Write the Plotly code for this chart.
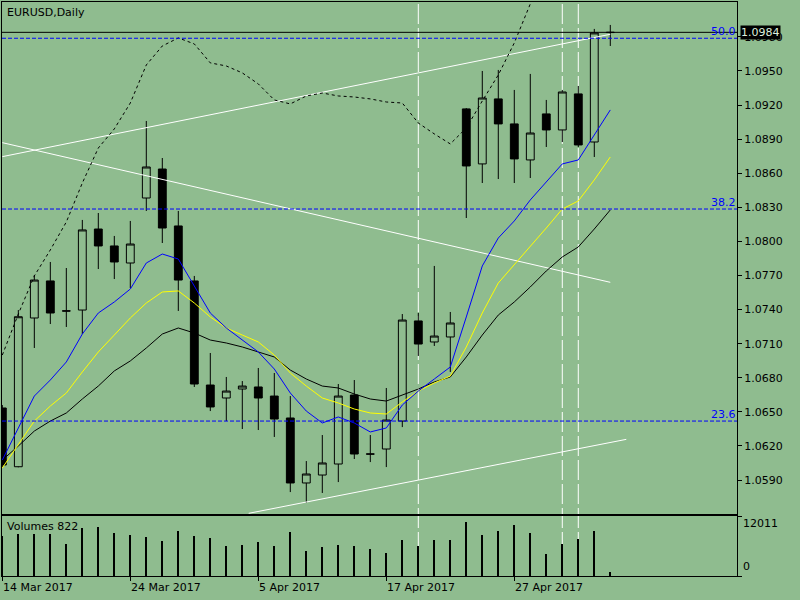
import plotly.graph_objects as go

# bar dates (daily, trading days only)
dates = ["14 Mar 2017", "15 Mar 2017", "16 Mar 2017", "17 Mar 2017", "20 Mar 2017",
         "21 Mar 2017", "22 Mar 2017", "23 Mar 2017", "24 Mar 2017", "27 Mar 2017",
         "28 Mar 2017", "29 Mar 2017", "30 Mar 2017", "31 Mar 2017", "3 Apr 2017",
         "4 Apr 2017", "5 Apr 2017", "6 Apr 2017", "7 Apr 2017", "10 Apr 2017",
         "11 Apr 2017", "12 Apr 2017", "13 Apr 2017", "14 Apr 2017", "17 Apr 2017",
         "18 Apr 2017", "19 Apr 2017", "20 Apr 2017", "21 Apr 2017", "24 Apr 2017",
         "25 Apr 2017", "26 Apr 2017", "27 Apr 2017", "28 Apr 2017", "1 May 2017",
         "2 May 2017", "3 May 2017", "4 May 2017", "5 May 2017"]

opens = [1.06534, 1.06017, 1.07326, 1.07652, 1.07389, 1.07396, 1.08109, 1.07960, 1.07810, 1.08382,
         1.08637, 1.08136, 1.07652, 1.06736, 1.06622, 1.06701, 1.06719, 1.06639, 1.06446, 1.05874,
         1.05944, 1.06041, 1.06648, 1.06130, 1.06173, 1.06419, 1.07300, 1.07115, 1.07159, 1.09166,
         1.08682, 1.09254, 1.09034, 1.08717, 1.09122, 1.08981, 1.09298, 1.08875, 1.09838]
highs = [1.06560, 1.07396, 1.07704, 1.07819, 1.07766, 1.08189, 1.08250, 1.08048, 1.08180, 1.09060,
         1.08734, 1.08268, 1.07696, 1.07018, 1.06807, 1.06771, 1.06886, 1.06842, 1.06639, 1.06067,
         1.06296, 1.06745, 1.06780, 1.06296, 1.06710, 1.07361, 1.07370, 1.07784, 1.07379, 1.09174,
         1.09500, 1.09509, 1.09333, 1.09474, 1.09245, 1.09333, 1.09368, 1.09870, 1.09905]
lows = [1.06014, 1.06012, 1.07062, 1.07273, 1.07247, 1.07185, 1.07757, 1.07669, 1.07590, 1.08268,
        1.07986, 1.07388, 1.06719, 1.06507, 1.06419, 1.06349, 1.06340, 1.06279, 1.05794, 1.05698,
        1.05786, 1.05882, 1.06085, 1.06058, 1.06014, 1.06366, 1.06992, 1.07080, 1.06851, 1.08206,
        1.08514, 1.08549, 1.08514, 1.08558, 1.08831, 1.08875, 1.08831, 1.08743, 1.09720]
closes = [1.06032, 1.07337, 1.07660, 1.07370, 1.07387, 1.08101, 1.07960, 1.07819, 1.07977, 1.08655,
          1.08118, 1.07660, 1.06745, 1.06543, 1.06683, 1.06727, 1.06622, 1.06437, 1.05874, 1.05953,
          1.06050, 1.06639, 1.06129, 1.06128, 1.06428, 1.07308, 1.07097, 1.07167, 1.07282, 1.08664,
          1.09262, 1.09034, 1.08726, 1.08954, 1.08981, 1.09315, 1.08849, 1.09835, 1.09840]

volumes = [8000, 8408, 8408, 8408, 6406, 9609, 9809, 8608, 8207, 7807,
           7006, 9008, 8007, 7607, 6005, 6206, 6806, 6005, 8808, 5005,
           5805, 6206, 6005, 5405, 4604, 7206, 6005, 7206, 7206, 10810,
           8207, 9008, 10209, 8608, 4404, 6406, 7407, 9008, 822]

ma_blue = [1.06076, 1.06358, 1.06639, 1.06780, 1.06939, 1.07185, 1.07370, 1.07467, 1.07581, 1.07810,
           1.07889, 1.07845, 1.07608, 1.07370, 1.07238, 1.07132, 1.07027, 1.06877, 1.06666, 1.06507,
           1.06402, 1.06455, 1.06402, 1.06323, 1.06358, 1.06560, 1.06683, 1.06789, 1.06895, 1.07335,
           1.07784, 1.08030, 1.08180, 1.08365, 1.08523, 1.08682, 1.08717, 1.08937, 1.09157]
ma_yellow = [1.06006, 1.06208, 1.06419, 1.06551, 1.06666, 1.06851, 1.07027, 1.07176, 1.07326, 1.07458,
             1.07555, 1.07564, 1.07458, 1.07335, 1.07238, 1.07176, 1.07115, 1.07000, 1.06842, 1.06727,
             1.06622, 1.06578, 1.06525, 1.06490, 1.06481, 1.06587, 1.06683, 1.06754, 1.06815, 1.07071,
             1.07370, 1.07634, 1.07793, 1.07951, 1.08118, 1.08285, 1.08356, 1.08541, 1.08743]
ma_black = [1.06076, 1.06199, 1.06331, 1.06419, 1.06490, 1.06613, 1.06727, 1.06860, 1.06948, 1.07062,
            1.07185, 1.07238, 1.07194, 1.07132, 1.07106, 1.07071, 1.07027, 1.06983, 1.06868, 1.06789,
            1.06727, 1.06710, 1.06657, 1.06613, 1.06595, 1.06648, 1.06701, 1.06763, 1.06807, 1.06983,
            1.07176, 1.07352, 1.07467, 1.07599, 1.07740, 1.07863, 1.07951, 1.08109, 1.08277]
ma_dotted = [1.07000, 1.07361, 1.07696, 1.07925, 1.08171, 1.08514, 1.08822, 1.08990, 1.09218, 1.09553,
             1.09720, 1.09791, 1.09738, 1.09571, 1.09544, 1.09483, 1.09386, 1.09245, 1.09210, 1.09280,
             1.09306, 1.09280, 1.09271, 1.09254, 1.09227, 1.09218, 1.09042, 1.08946, 1.08858, 1.08998,
             1.09236, 1.09465, 1.09747, 1.10081, 1.10433]

# trend lines: (bar index, price) end points
trend_up = [(0.0, 1.08746), (38.0, 1.09823)]
trend_down = [(0.0, 1.08869), (38.0, 1.07640)]
trend_low = [(15.4, 1.05607), (39.0, 1.06258)]

vlines = [26, 35, 36]  # bar indexes of vertical lines

fib_levels = [1.09788, 1.08285, 1.06419]
fib_labels = ["50.0", "38.2", "23.6"]

bid = 1.0984
price_ticks = [1.0590, 1.0620, 1.0650, 1.0680, 1.0710, 1.0740, 1.0770, 1.0800,
               1.0830, 1.0860, 1.0890, 1.0920, 1.0950, 1.0980]
date_ticks = [0, 8, 16, 24, 32]
vol_max = 12011

BG = "#8FBC8F"
FONT = "DejaVu Sans"

idx = list(range(len(opens)))

fig = go.Figure()

for line in [trend_up, trend_down, trend_low]:
    fig.add_trace(go.Scatter(x=[p[0] for p in line], y=[p[1] for p in line], mode="lines",
                             line=dict(color="white", width=1), xaxis="x", yaxis="y"))

fig.add_trace(go.Candlestick(
    x=idx, open=opens, high=highs, low=lows, close=closes,
    increasing=dict(line=dict(color="black", width=1), fillcolor=BG),
    decreasing=dict(line=dict(color="black", width=1), fillcolor="black"),
    whiskerwidth=0, xaxis="x", yaxis="y"))

fig.add_trace(go.Scatter(x=idx[:len(ma_dotted)], y=ma_dotted, mode="lines",
                         line=dict(color="black", width=1, dash="3px,3px"), xaxis="x", yaxis="y"))
fig.add_trace(go.Scatter(x=idx, y=ma_black, mode="lines", line=dict(color="black", width=1),
                         xaxis="x", yaxis="y"))
fig.add_trace(go.Scatter(x=idx, y=ma_yellow, mode="lines", line=dict(color="#FFFF00", width=1),
                         xaxis="x", yaxis="y"))
fig.add_trace(go.Scatter(x=idx, y=ma_blue, mode="lines", line=dict(color="#0000FF", width=1),
                         xaxis="x", yaxis="y"))

fig.add_trace(go.Bar(x=idx, y=volumes, width=0.08, marker=dict(color="black", line=dict(width=0)),
                     xaxis="x2", yaxis="y2"))

shapes = []
for v in vlines:
    shapes.append(dict(type="line", xref="x", yref="paper", x0=v, x1=v, y0=0, y1=1,
                       line=dict(color="white", width=1, dash="20px,4px"), layer="below"))
for lv in fib_levels:
    shapes.append(dict(type="line", xref="x domain", yref="y", x0=0, x1=1, y0=lv, y1=lv,
                       line=dict(color="#0000FF", width=1, dash="4px,2px")))
shapes.append(dict(type="line", xref="x domain", yref="y", x0=0, x1=1, y0=bid, y1=bid,
                   line=dict(color="black", width=1)))

ann = []
ann.append(dict(text="EURUSD,Daily", xref="paper", yref="paper", x=0, y=1, xanchor="left",
                yanchor="top", xshift=3, yshift=-2, showarrow=False))
ann.append(dict(text="Volumes 822", xref="paper", yref="paper", x=0, y=60 / 574, xanchor="left",
                yanchor="top", xshift=3, yshift=-2, showarrow=False))
for lv, lab in zip(fib_levels, fib_labels):
    ann.append(dict(text=lab, xref="paper", yref="y", x=1, y=lv, xanchor="right", yanchor="bottom",
                    xshift=1, yshift=-2, showarrow=False, font=dict(color="#0000FF")))
ann.append(dict(text="1.0984", xref="paper", yref="y", x=1, y=bid, xanchor="left", yanchor="middle",
                xshift=3, showarrow=False, bgcolor="black", borderpad=0,
                font=dict(color="#DDEEDD")))
ann.append(dict(text=str(vol_max), xref="paper", yref="y2", x=1, y=vol_max, xanchor="left",
                yanchor="top", xshift=4, yshift=1, showarrow=False))
ann.append(dict(text="0", xref="paper", yref="y2", x=1, y=0, xanchor="left",
                yanchor="bottom", xshift=4, yshift=1, showarrow=False))
for t in date_ticks:
    ann.append(dict(text=dates[t], xref="x2", yref="paper", x=t, y=0, xanchor="left",
                    yanchor="top", xshift=-1, yshift=-3, showarrow=False))

axis_common = dict(showgrid=False, zeroline=False, showline=True, mirror=True,
                   linecolor="black", linewidth=1)
xrange = [-0.02, 45.92]

fig.update_layout(
    width=800, height=600,
    margin=dict(l=2, r=63, t=2, b=24, autoexpand=False),
    paper_bgcolor=BG, plot_bgcolor=BG,
    font=dict(family=FONT, size=11, color="black"),
    showlegend=False, hovermode=False,
    boxgap=0.3,
    xaxis=dict(domain=[0, 1], anchor="y", range=xrange, showticklabels=False, ticks="",
               rangeslider=dict(visible=False), **axis_common),
    yaxis=dict(domain=[62 / 574, 1], anchor="x", side="right", range=[1.05601, 1.10107],
               tickvals=price_ticks, ticktext=["%.4f" % p for p in price_ticks],
               ticks="outside", ticklen=4, tickcolor="black", **axis_common),
    xaxis2=dict(domain=[0, 1], anchor="y2", range=xrange, tickvals=date_ticks, ticks="outside",
                ticklen=4, tickcolor="black", showticklabels=False, **axis_common),
    yaxis2=dict(domain=[0, 60 / 574], anchor="x2", side="right", range=[0, vol_max],
                tickvals=[0, vol_max], ticks="outside", ticklen=4, tickcolor="black",
                showticklabels=False, **axis_common),
    shapes=shapes,
    annotations=ann,
)

# the page body has a default 8px margin; drop it so the chart sits at the window corner
fig.write_html("out.html", config={"displayModeBar": False},
               post_script="document.body.style.margin='0';")
